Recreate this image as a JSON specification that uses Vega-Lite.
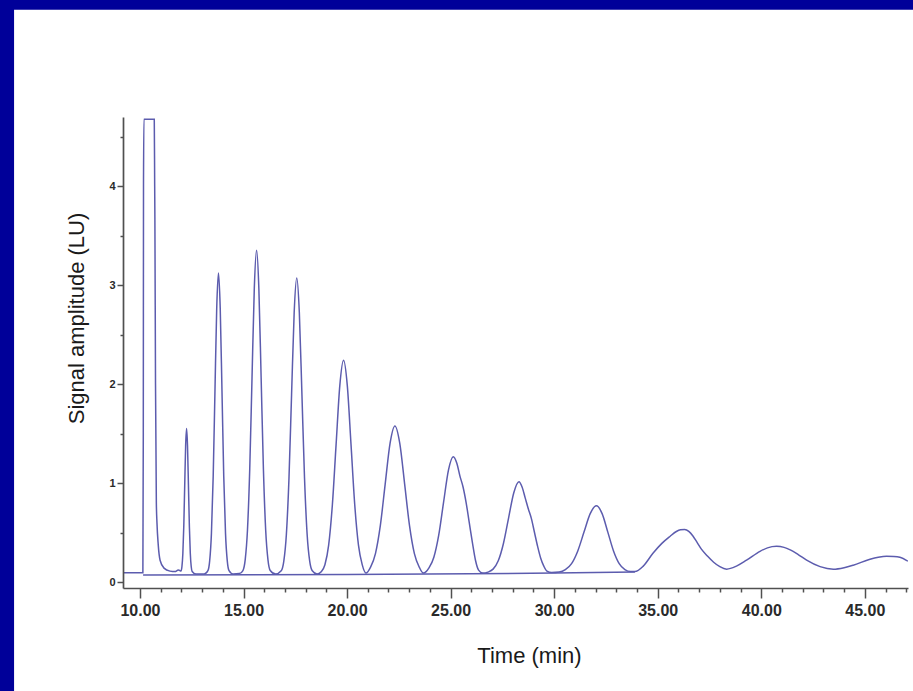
{
  "$schema": "https://vega.github.io/schema/vega-lite/v6.json",
  "width": 785,
  "height": 471,
  "autosize": {"type": "none"},
  "padding": {"left": 123, "top": 117, "right": 5, "bottom": 103},
  "background": "#000099",
  "config": {"view": {"stroke": null}},
  "resolve": {"axis": {"x": "independent", "y": "independent"}},
  "layer": [
    {
      "data": {"values": [{}]},
      "mark": {"type": "rect", "fill": "white", "clip": false},
      "encoding": {
        "x": {
          "datum": 3.92,
          "type": "quantitative",
          "scale": {"domain": [9.18, 47.085], "nice": false, "zero": false},
          "axis": {
            "orient": "bottom",
            "values": [11, 12, 13, 14, 16, 17, 18, 19, 21, 22, 23, 24, 26, 27, 28, 29, 31, 32, 33, 34, 36, 37, 38, 39, 41, 42, 43, 44, 46, 47],
            "labels": false,
            "domain": false,
            "grid": false,
            "title": null,
            "tickSize": 4,
            "tickColor": "#505050",
            "tickWidth": 1.5,
            "zindex": 1
          }
        },
        "x2": {"datum": 47.8},
        "y": {
          "datum": 5.78,
          "type": "quantitative",
          "scale": {"domain": [-0.0606, 4.697], "nice": false, "zero": false},
          "axis": {
            "orient": "left",
            "values": [0.5, 1.5, 2.5, 3.5, 4.5],
            "labels": false,
            "domain": false,
            "grid": false,
            "title": null,
            "tickSize": 3,
            "tickColor": "#505050",
            "tickWidth": 1.5,
            "zindex": 1
          }
        },
        "y2": {"datum": -1.25}
      }
    },
    {
      "data": {
        "values": [
          {"s": "B", "t": 10.15, "v": 0.07},
          {"s": "B", "t": 20.0, "v": 0.075},
          {"s": "B", "t": 30.0, "v": 0.09},
          {"s": "B", "t": 33.9, "v": 0.1},

          {"s": "A", "t": 9.18, "v": 0.094},
          {"s": "A", "t": 10.14, "v": 0.094},
          {"s": "A", "t": 10.16, "v": 1.5},
          {"s": "A", "t": 10.17, "v": 4.0},
          {"s": "A", "t": 10.19, "v": 4.674},
          {"s": "A", "t": 10.69, "v": 4.674},
          {"s": "A", "t": 10.71, "v": 4.0},
          {"s": "A", "t": 10.72, "v": 3.66},
          {"s": "A", "t": 10.75, "v": 2.0},
          {"s": "A", "t": 10.79, "v": 0.8},
          {"s": "A", "t": 10.82, "v": 0.6},
          {"s": "A", "t": 10.88, "v": 0.38},
          {"s": "A", "t": 10.97, "v": 0.22},
          {"s": "A", "t": 11.16, "v": 0.14},
          {"s": "A", "t": 11.45, "v": 0.11},
          {"s": "A", "t": 11.69, "v": 0.105},
          {"s": "A", "t": 11.85, "v": 0.12},
          {"s": "A", "t": 11.93, "v": 0.115},
          {"s": "A", "t": 11.98, "v": 0.11},

          {"s": "A", "t": 12.025, "v": 0.154},
          {"s": "A", "t": 12.07, "v": 0.288},
          {"s": "A", "t": 12.115, "v": 0.564},
          {"s": "A", "t": 12.16, "v": 0.976},
          {"s": "A", "t": 12.205, "v": 1.378},
          {"s": "A", "t": 12.25, "v": 1.55},
          {"s": "A", "t": 12.295, "v": 1.378},
          {"s": "A", "t": 12.34, "v": 0.976},
          {"s": "A", "t": 12.385, "v": 0.564},
          {"s": "A", "t": 12.43, "v": 0.288},
          {"s": "A", "t": 12.475, "v": 0.154},
          {"s": "A", "t": 12.52, "v": 0.106},
          {"s": "A", "t": 12.7, "v": 0.08},
          {"s": "A", "t": 13.1, "v": 0.08},

          {"s": "A", "t": 13.28, "v": 0.114},
          {"s": "A", "t": 13.365, "v": 0.213},
          {"s": "A", "t": 13.45, "v": 0.491},
          {"s": "A", "t": 13.535, "v": 1.067},
          {"s": "A", "t": 13.62, "v": 1.924},
          {"s": "A", "t": 13.705, "v": 2.763},
          {"s": "A", "t": 13.79, "v": 3.12},
          {"s": "A", "t": 13.875, "v": 2.763},
          {"s": "A", "t": 13.96, "v": 1.924},
          {"s": "A", "t": 14.045, "v": 1.067},
          {"s": "A", "t": 14.13, "v": 0.491},
          {"s": "A", "t": 14.215, "v": 0.213},
          {"s": "A", "t": 14.3, "v": 0.114},
          {"s": "A", "t": 14.5, "v": 0.08},
          {"s": "A", "t": 14.8, "v": 0.085},

          {"s": "A", "t": 14.97, "v": 0.116},
          {"s": "A", "t": 15.08, "v": 0.224},
          {"s": "A", "t": 15.19, "v": 0.522},
          {"s": "A", "t": 15.3, "v": 1.142},
          {"s": "A", "t": 15.41, "v": 2.063},
          {"s": "A", "t": 15.52, "v": 2.966},
          {"s": "A", "t": 15.63, "v": 3.35},
          {"s": "A", "t": 15.74, "v": 2.966},
          {"s": "A", "t": 15.85, "v": 2.063},
          {"s": "A", "t": 15.96, "v": 1.142},
          {"s": "A", "t": 16.07, "v": 0.522},
          {"s": "A", "t": 16.18, "v": 0.224},
          {"s": "A", "t": 16.29, "v": 0.116},
          {"s": "A", "t": 16.55, "v": 0.08},

          {"s": "A", "t": 16.82, "v": 0.113},
          {"s": "A", "t": 16.945, "v": 0.211},
          {"s": "A", "t": 17.07, "v": 0.485},
          {"s": "A", "t": 17.195, "v": 1.051},
          {"s": "A", "t": 17.32, "v": 1.893},
          {"s": "A", "t": 17.445, "v": 2.719},
          {"s": "A", "t": 17.57, "v": 3.07},
          {"s": "A", "t": 17.695, "v": 2.719},
          {"s": "A", "t": 17.82, "v": 1.893},
          {"s": "A", "t": 17.945, "v": 1.051},
          {"s": "A", "t": 18.07, "v": 0.485},
          {"s": "A", "t": 18.195, "v": 0.211},
          {"s": "A", "t": 18.32, "v": 0.113},
          {"s": "A", "t": 18.55, "v": 0.08},

          {"s": "A", "t": 18.75, "v": 0.104},
          {"s": "A", "t": 18.93, "v": 0.175},
          {"s": "A", "t": 19.11, "v": 0.372},
          {"s": "A", "t": 19.29, "v": 0.781},
          {"s": "A", "t": 19.47, "v": 1.39},
          {"s": "A", "t": 19.65, "v": 1.986},
          {"s": "A", "t": 19.83, "v": 2.24},
          {"s": "A", "t": 20.01, "v": 1.986},
          {"s": "A", "t": 20.19, "v": 1.39},
          {"s": "A", "t": 20.37, "v": 0.781},
          {"s": "A", "t": 20.55, "v": 0.372},
          {"s": "A", "t": 20.73, "v": 0.175},
          {"s": "A", "t": 20.91, "v": 0.09},

          {"s": "A", "t": 21.135, "v": 0.15},
          {"s": "A", "t": 21.37, "v": 0.287},
          {"s": "A", "t": 21.605, "v": 0.569},
          {"s": "A", "t": 21.84, "v": 0.989},
          {"s": "A", "t": 22.075, "v": 1.4},
          {"s": "A", "t": 22.31, "v": 1.576},
          {"s": "A", "t": 22.545, "v": 1.4},
          {"s": "A", "t": 22.78, "v": 0.989},
          {"s": "A", "t": 23.015, "v": 0.569},
          {"s": "A", "t": 23.25, "v": 0.287},
          {"s": "A", "t": 23.485, "v": 0.15},
          {"s": "A", "t": 23.68, "v": 0.09},

          {"s": "A", "t": 23.955, "v": 0.142},
          {"s": "A", "t": 24.19, "v": 0.25},
          {"s": "A", "t": 24.425, "v": 0.473},
          {"s": "A", "t": 24.66, "v": 0.806},
          {"s": "A", "t": 24.895, "v": 1.131},
          {"s": "A", "t": 25.13, "v": 1.266},
          {"s": "A", "t": 25.3, "v": 1.2},
          {"s": "A", "t": 25.45, "v": 1.07},
          {"s": "A", "t": 25.6, "v": 0.96},
          {"s": "A", "t": 25.75, "v": 0.8},
          {"s": "A", "t": 25.9, "v": 0.6},
          {"s": "A", "t": 26.05, "v": 0.4},
          {"s": "A", "t": 26.2, "v": 0.22},
          {"s": "A", "t": 26.35, "v": 0.12},
          {"s": "A", "t": 26.55, "v": 0.09},

          {"s": "A", "t": 26.8, "v": 0.1},
          {"s": "A", "t": 27.05, "v": 0.13},
          {"s": "A", "t": 27.3, "v": 0.214},
          {"s": "A", "t": 27.55, "v": 0.389},
          {"s": "A", "t": 27.8, "v": 0.648},
          {"s": "A", "t": 28.05, "v": 0.902},
          {"s": "A", "t": 28.3, "v": 1.013},
          {"s": "A", "t": 28.45, "v": 0.96},
          {"s": "A", "t": 28.6, "v": 0.85},
          {"s": "A", "t": 28.75, "v": 0.74},
          {"s": "A", "t": 28.9, "v": 0.64},
          {"s": "A", "t": 29.05, "v": 0.5},
          {"s": "A", "t": 29.2, "v": 0.36},
          {"s": "A", "t": 29.35, "v": 0.24},
          {"s": "A", "t": 29.5, "v": 0.16},
          {"s": "A", "t": 29.65, "v": 0.11},
          {"s": "A", "t": 29.88, "v": 0.095},

          {"s": "A", "t": 30.24, "v": 0.1},
          {"s": "A", "t": 30.54, "v": 0.125},
          {"s": "A", "t": 30.84, "v": 0.186},
          {"s": "A", "t": 31.14, "v": 0.314},
          {"s": "A", "t": 31.44, "v": 0.504},
          {"s": "A", "t": 31.74, "v": 0.691},
          {"s": "A", "t": 32.04, "v": 0.77},
          {"s": "A", "t": 32.315, "v": 0.691},
          {"s": "A", "t": 32.59, "v": 0.504},
          {"s": "A", "t": 32.865, "v": 0.314},
          {"s": "A", "t": 33.14, "v": 0.186},
          {"s": "A", "t": 33.415, "v": 0.125},
          {"s": "A", "t": 33.69, "v": 0.105},
          {"s": "A", "t": 33.9, "v": 0.105},

          {"s": "A", "t": 34.3, "v": 0.16},
          {"s": "A", "t": 34.77, "v": 0.29},
          {"s": "A", "t": 35.2, "v": 0.39},
          {"s": "A", "t": 35.59, "v": 0.46},
          {"s": "A", "t": 35.9, "v": 0.51},
          {"s": "A", "t": 36.1, "v": 0.527},
          {"s": "A", "t": 36.3, "v": 0.53},
          {"s": "A", "t": 36.5, "v": 0.512},
          {"s": "A", "t": 36.7, "v": 0.465},
          {"s": "A", "t": 36.9, "v": 0.4},
          {"s": "A", "t": 37.1, "v": 0.335},
          {"s": "A", "t": 37.4, "v": 0.262},
          {"s": "A", "t": 37.7, "v": 0.2},
          {"s": "A", "t": 38.0, "v": 0.155},
          {"s": "A", "t": 38.33, "v": 0.13},

          {"s": "A", "t": 38.8, "v": 0.16},
          {"s": "A", "t": 39.29, "v": 0.22},
          {"s": "A", "t": 39.94, "v": 0.31},
          {"s": "A", "t": 40.3, "v": 0.345},
          {"s": "A", "t": 40.74, "v": 0.36},
          {"s": "A", "t": 41.1, "v": 0.35},
          {"s": "A", "t": 41.4, "v": 0.325},
          {"s": "A", "t": 41.8, "v": 0.275},
          {"s": "A", "t": 42.19, "v": 0.22},
          {"s": "A", "t": 42.84, "v": 0.155},
          {"s": "A", "t": 43.48, "v": 0.13},

          {"s": "A", "t": 44.0, "v": 0.145},
          {"s": "A", "t": 44.44, "v": 0.17},
          {"s": "A", "t": 45.25, "v": 0.23},
          {"s": "A", "t": 45.65, "v": 0.25},
          {"s": "A", "t": 46.05, "v": 0.26},
          {"s": "A", "t": 46.4, "v": 0.258},
          {"s": "A", "t": 46.69, "v": 0.25},
          {"s": "A", "t": 47.08, "v": 0.21}
        ]
      },
      "mark": {"type": "line", "interpolate": "monotone", "color": "#5c5cae", "strokeWidth": 1.5, "clip": true},
      "encoding": {
        "x": {
          "field": "t",
          "type": "quantitative",
          "scale": {"domain": [9.18, 47.085], "nice": false, "zero": false},
          "axis": {
            "orient": "bottom",
            "values": [10, 15, 20, 25, 30, 35, 40, 45],
            "format": ".2f",
            "tickSize": 10,
            "tickColor": "#505050",
            "tickWidth": 1.5,
            "domainColor": "#505050",
            "domainWidth": 1.7,
            "labelFont": "Liberation Sans",
            "labelFontWeight": "bold",
            "labelFontSize": 16,
            "labelColor": "#2a2a2a",
            "labelPadding": 4,
            "labelFlush": false,
            "labelOverlap": false,
            "grid": false,
            "title": "Time (min)",
            "titleFont": "Liberation Sans",
            "titleFontSize": 22,
            "titleFontWeight": "normal",
            "titleColor": "#1a1a1a",
            "titleX": 406,
            "titleY": 74,
            "titleAlign": "center",
            "titleBaseline": "alphabetic",
            "zindex": 1
          }
        },
        "y": {
          "field": "v",
          "type": "quantitative",
          "scale": {"domain": [-0.0606, 4.697], "nice": false, "zero": false},
          "axis": {
            "orient": "left",
            "values": [0, 1, 2, 3, 4],
            "format": "d",
            "tickSize": 6,
            "tickColor": "#505050",
            "tickWidth": 1.5,
            "domainColor": "#505050",
            "domainWidth": 1.7,
            "labelFont": "Liberation Sans",
            "labelFontWeight": "bold",
            "labelFontSize": 11,
            "labelColor": "#2a2a2a",
            "labelPadding": 2,
            "labelOverlap": false,
            "grid": false,
            "title": "Signal amplitude (LU)",
            "titleFont": "Liberation Sans",
            "titleFontSize": 22,
            "titleFontWeight": "normal",
            "titleColor": "#1a1a1a",
            "titleX": -47,
            "titleY": 201,
            "titleAngle": -90,
            "titleAlign": "center",
            "titleBaseline": "middle",
            "zindex": 1
          }
        },
        "detail": {"field": "s", "type": "nominal"}
      }
    }
  ]
}
